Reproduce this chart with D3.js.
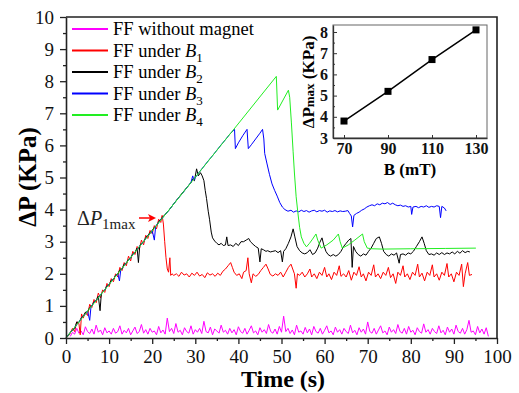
<!DOCTYPE html>
<html>
<head>
<meta charset="utf-8">
<script src="https://cdn.jsdelivr.net/npm/d3@7"></script>
<style>
  body { margin: 0; background: #fff; }
  svg { display: block; font-family: "Liberation Serif", "Times New Roman", serif; }
</style>
</head>
<body>
<svg id="chart" width="519" height="393"></svg>
<script>
// ---- data ----
var xTicks = [0, 10, 20, 30, 40, 50, 60, 70, 80, 90, 100];
var yTicks = [0, 1, 2, 3, 4, 5, 6, 7, 8, 9, 10];

var legendNames = ["FF without magnet", "FF under ", "FF under ", "FF under ", "FF under "];
var legendSubs = ["", "1", "2", "3", "4"];
var seriesColors = ["#ff00ff", "#ff0000", "#000000", "#0000ff", "#22ee22"];

// pink: sampled every 0.5 s from t = 1 s
var pinkStart = 1, pinkStep = 0.5;
var pinkValues = [
  0.05,0.18,0.12,0.3,0.15,0.22,0.1,0.35,0.2,0.14,0.28,0.12,0.4,0.18,0.25,0.1,0.32,0.16,0.22,0.12,
  0.3,0.15,0.2,0.38,0.12,0.24,0.16,0.3,0.1,0.22,0.34,0.14,0.2,0.42,0.15,0.26,0.12,0.3,0.18,0.22,
  0.1,0.36,0.16,0.25,0.12,0.62,0.2,0.3,0.14,0.45,0.18,0.24,0.1,0.32,0.2,0.15,0.38,0.12,0.26,0.18,
  0.3,0.14,0.52,0.2,0.16,0.34,0.1,0.28,0.22,0.15,0.4,0.18,0.24,0.12,0.3,0.16,0.26,0.1,0.35,0.2,
  0.15,0.3,0.12,0.24,0.38,0.16,0.22,0.1,0.32,0.18,0.26,0.14,0.42,0.2,0.15,0.28,0.12,0.36,0.18,0.68,
  0.2,0.3,0.14,0.25,0.1,0.4,0.18,0.22,0.12,0.33,0.16,0.28,0.1,0.36,0.2,0.15,0.3,0.12,0.24,0.38,
  0.16,0.22,0.1,0.34,0.18,0.26,0.12,0.3,0.2,0.14,0.4,0.16,0.24,0.1,0.32,0.18,0.28,0.12,0.5,0.2,
  0.15,0.3,0.12,0.25,0.38,0.16,0.22,0.1,0.34,0.18,0.26,0.14,0.42,0.2,0.15,0.3,0.12,0.36,0.18,0.24,
  0.1,0.32,0.2,0.15,0.44,0.18,0.26,0.12,0.3,0.2,0.14,0.38,0.16,0.24,0.1,0.34,0.18,0.28,0.12,0.4,
  0.2,0.15,0.3,0.12,0.26,0.55,0.18,0.22,0.1,0.36,0.16,0.28,0.12,0.32,0.05
];

var redData = [
  [0,0],[0.8,0.1],[1.5,0.3],[2,0.2],[2.5,0.5],[3,0.45],[3.3,0.1],[3.6,0.75],[4,0.62],[4.5,0.8],[5,0.7],
  [5.5,1.05],[6,0.95],[6.5,1.2],[7,1.1],[7.5,1.4],[8,1.25],[8.5,1.5],[9,1.42],[9.5,1.7],[10,1.6],
  [10.5,1.85],[11,1.75],[11.5,2.0],[12,1.9],[12.5,2.2],[13,2.1],[13.5,2.35],[14,2.25],[14.5,2.55],
  [15,2.4],[15.5,2.7],[16,2.6],[16.5,2.85],[17,2.75],[17.5,3.05],[18,2.9],[18.5,3.2],[19,3.1],
  [19.5,3.35],[20,3.25],[20.5,3.5],[21,3.4],[21.5,3.7],[22,3.6],[22.3,3.82],[22.6,3.55],[22.9,3.0],
  [23.2,2.5],[23.5,2.15],[23.8,2.05],[24.1,2.5],[24.3,1.95],[24.6,2.0],
  [25,1.95],[25.6,2.0],[26.2,1.92],[26.8,2.05],[27.4,1.96],[28,2.0],[28.6,1.9],[29.2,2.02],[29.8,1.95],
  [30.4,2.05],[31,1.93],[31.6,1.98],[32.2,1.88],[32.8,2.03],[33.4,1.96],[34,2.0],[34.6,1.92],[35.2,2.02],
  [35.8,1.95],[36.4,2.08],[37,2.15],[37.6,2.25],[38.2,2.35],[38.6,2.2],[39,2.05],[39.6,1.95],[40.2,2.0],
  [40.8,1.85],[41.2,2.05],[41.8,2.1],[42.2,2.5],[42.5,2.0],[43,1.72],[43.4,2.0],[44,1.92],[44.6,1.98],
  [45.2,2.1],[45.8,2.2],[46.4,2.3],[46.9,2.15],[47.4,1.98],[48,1.93],[48.6,2.0],[49.2,1.95],[49.8,2.05],
  [50.4,1.9],[51,2.05],[51.6,2.2],[52.2,2.3],[52.6,2.15],[53,2.0],[53.4,1.55],[53.7,2.0],[54.2,1.95],
  [54.8,2.05],[55.4,1.9],[56,2.0],[56.6,2.15],[57,1.9],[57.6,2.0],[58.2,1.85],[58.8,2.05],[59.4,1.95],
  [60,2.2],[60.5,1.9],[61,2.0],[61.6,1.82],[62.2,2.05],[62.8,1.95],[63.4,2.25],[63.8,1.92],[64.4,2.0],
  [65,1.9],[65.6,2.1],[66.2,1.8],[66.8,2.05],[67.4,1.95],[68,2.22],[68.5,1.9],[69,2.0],[69.6,1.78],
  [70.2,2.05],[70.8,1.95],[71.4,2.28],[71.8,1.9],[72.4,2.0],[73,1.85],[73.6,2.05],[74.2,1.95],[74.8,2.2],
  [75.3,1.88],[75.9,2.0],[76.5,1.7],[77,2.05],[77.6,1.95],[78.2,2.25],[78.6,1.9],[79.2,2.0],[79.8,1.82],
  [80.4,2.05],[81,1.95],[81.6,2.3],[82,1.9],[82.6,2.02],[83.2,1.78],[83.8,2.05],[84.4,1.95],[85,2.28],
  [85.4,1.9],[86,2.0],[86.6,1.8],[87.2,2.05],[87.8,1.95],[88.4,2.32],[88.8,1.9],[89.4,2.0],[90,1.75],
  [90.6,2.05],[91.2,1.95],[91.8,2.3],[92.2,1.6],[92.6,2.0],[93.2,2.35],[93.6,1.95],[94.2,1.98]
];

var blackData = [
  [0,0],[1,0.18],[2,0.3],[2.5,0.5],[3,0.48],[3.5,0.62],[4,0.68],[4.5,0.8],[5,0.82],[5.5,0.95],[6,1.0],
  [6.5,1.12],[7,1.17],[7.5,1.3],[7.9,0.85],[8.2,1.38],[9,1.5],[9.5,1.62],[10,1.66],[10.5,1.8],[11,1.82],
  [11.5,1.95],[12,2.0],[12.5,2.12],[13,2.15],[13.5,2.3],[14,2.33],[14.5,2.45],[15,2.5],[15.5,2.62],
  [16,2.66],[16.5,2.8],[16.8,2.35],[17.1,2.86],[17.5,2.95],[18,3.0],[18.5,3.12],[19,3.2],[19.5,3.28],
  [20,3.35],[20.5,3.45],[21,3.5],[21.5,3.62],[22,3.7],[22.5,3.78],[23,3.85],[24,4.0],[25,4.18],[26,4.35],
  [27,4.52],[28,4.68],[29,4.84],[29.4,4.95],[29.8,4.9],[30.3,5.27],[30.7,5.05],[31.2,5.15],[31.6,5.05],
  [32,4.9],[32.3,4.6],[32.6,4.35],[33,3.95],[33.3,3.7],[33.7,3.3],[34,3.12],[34.5,3.02],[35,2.95],
  [35.5,2.9],[36,2.95],[36.5,2.88],[37,2.9],[37.3,3.15],[37.6,2.88],[38.2,2.9],[38.8,2.85],[39.4,2.95],
  [40,2.88],[40.6,3.0],[41.2,3.0],[41.8,3.05],[42.4,3.1],[42.8,3.0],[43.4,2.92],[44,2.85],[44.6,2.8],
  [45,2.37],[45.3,2.78],[45.8,2.75],[46.4,2.7],[46.8,2.72],[47.4,2.68],[48,2.7],[48.6,2.72],[49.2,2.66],
  [49.8,2.72],[50.2,2.37],[50.5,2.7],[51,2.78],[51.6,2.95],[52.2,3.15],[52.7,3.4],[53.1,3.15],[53.6,2.85],
  [54.2,2.72],[54.8,2.65],[55.4,2.62],[56,2.66],[56.6,2.75],[57.2,2.6],[57.8,2.65],[58.4,2.8],[58.9,2.98],
  [59.4,3.12],[59.8,2.9],[60.3,2.7],[60.8,2.6],[61.4,2.55],[62,2.6],[62.6,2.55],[63.2,2.6],[63.8,2.7],
  [64.4,2.85],[65,2.95],[65.6,3.05],[66.1,3.1],[66.4,2.2],[66.7,2.85],[67.2,2.7],[67.8,2.6],[68.4,2.55],
  [69,2.62],[69.6,2.58],[70.2,2.7],[70.8,2.8],[71.4,2.95],[72,3.1],[72.7,3.15],[73.2,2.95],[73.7,2.7],
  [74.3,2.6],[74.9,2.55],[75.5,2.62],[76.1,2.58],[76.7,2.65],[77.3,2.33],[77.6,2.6],[78.2,2.62],
  [78.8,2.58],[79.4,2.65],[80,2.62],[80.6,2.7],[81.3,2.85],[82,3.0],[82.6,3.15],[83.1,2.95],[83.6,2.72],
  [84.2,2.6],[84.8,2.62],[85.4,2.58],[86,2.65],[86.6,2.6],[87.2,2.66],[87.8,2.6],[88.4,2.65],[89,2.62],
  [89.6,2.68],[90.2,2.62],[90.8,2.7],[91.4,2.64],[92,2.72],[92.6,2.66],[93.2,2.7],[93.7,2.68]
];

var blueData = [
  [0,0],[0.7,0.12],[1.5,0.25],[2,0.32],[2.5,0.42],[3,0.5],[3.5,0.6],[4,0.68],[4.5,0.75],[5,0.84],
  [5.5,0.55],[5.8,0.98],[6.5,1.1],[7,1.18],[7.5,1.25],[8,1.35],[8.5,1.42],[9,1.5],[9.5,1.6],[10,1.68],
  [10.5,1.75],[11,1.85],[11.5,1.92],[12,2.0],[12.4,1.78],[12.7,2.12],[13.5,2.25],[14,2.35],[14.5,2.42],
  [15,2.5],[15.5,2.6],[16,2.68],[16.5,2.75],[17,2.85],[17.5,2.92],[18,3.0],[18.5,3.1],[19,3.18],
  [19.5,3.25],[20,3.35],[20.5,3.05],[20.8,3.48],[21.5,3.6],[22,3.68],[23,3.84],[24,4.0],[25,4.18],
  [26,4.35],[27,4.5],[28,4.68],[29,4.85],[29.4,5.05],[29.7,4.92],[30,5.0],[31,5.18],[32,5.35],[33,5.52],
  [34,5.68],[35,5.85],[36,6.02],[37,6.18],[38,6.35],[39.1,6.5],[39.3,5.9],[40,6.08],[41,6.3],[42,6.5],
  [42.3,5.9],[43,6.02],[44,6.2],[45,6.38],[45.6,6.5],[45.9,6.2],[46.1,5.75],[46.6,5.45],[47.2,5.1],
  [47.8,4.8],[48.4,4.6],[49,4.42],[49.6,4.22],[50.2,4.08],[50.8,4.0],[51.5,3.95],[52.2,3.98],[52.8,3.92],
  [53.4,3.96],[54,3.93],[54.6,3.98],[55.2,3.94],[55.8,3.97],[56.4,3.92],[57,3.96],[57.6,3.98],[58.2,3.93],
  [58.8,3.97],[59.4,3.95],[60,3.98],[60.6,3.92],[61.2,3.96],[61.8,3.94],[62.4,3.97],[63,3.93],[63.6,3.96],
  [64.2,3.94],[64.8,3.95],[65.4,3.97],[65.8,3.88],[66.2,3.8],[66.5,3.46],[66.8,3.82],[67.4,3.88],[68,3.92],
  [68.6,3.98],[69.2,4.02],[69.8,4.08],[70.4,4.12],[71,4.15],[71.6,4.12],[72.2,4.18],[72.8,4.15],[73.4,4.2],
  [74,4.18],[74.6,4.22],[75.2,4.16],[75.8,4.2],[76.4,4.15],[77,4.12],[77.6,4.14],[78.2,4.1],[78.8,4.12],
  [79.4,4.08],[80,4.1],[80.2,3.85],[80.5,4.08],[81.2,4.1],[81.8,4.06],[82.4,4.1],[83,4.08],[83.6,4.12],
  [84.2,4.07],[84.8,4.1],[85.4,4.08],[86,4.12],[86.6,4.1],[86.9,3.75],[87.2,4.1],[87.8,4.05],[88.2,3.96]
];

var greenData = [
  [0,0],[48.8,8.15],[49.1,7.1],[51.6,7.72],[51.9,7.5],[52.3,6.7],[52.7,5.8],[53,5.14],[53.4,4.4],
  [53.8,3.9],[54.2,3.45],[54.6,3.15],[55.2,2.95],[55.8,2.84],[56.5,2.95],[57.2,3.08],[58,3.24],[58.4,3.05],
  [59.2,2.8],[60.5,2.9],[62,3.05],[63.2,3.24],[63.6,3.0],[64.1,2.8],[65.5,2.9],[67,3.05],[68.8,3.24],
  [69.2,3.0],[69.9,2.8],[71,2.78],[73.4,2.77],[80,2.78],[88,2.79],[95.1,2.8]
];

// inset: peak pressure vs field
var insetB = [70, 90, 110, 130];
var insetP = [3.8, 5.2, 6.7, 8.1];
var insetXTicks = [70, 90, 110, 130];
var insetYTicks = [3, 4, 5, 6, 7, 8];

// ---- drawing ----
var svg = d3.select("#chart");
svg.append("rect").attr("width", 519).attr("height", 393).attr("fill", "#fff");

var x = d3.scaleLinear().domain([0, 100]).range([66, 497]);
var y = d3.scaleLinear().domain([0, 10]).range([338, 17]);

var line = d3.line()
    .x(function (d) { return x(d[0]); })
    .y(function (d) { return y(d[1]); });

var pinkData = pinkValues.map(function (v, i) { return [pinkStart + i * pinkStep, v]; });
var allSeries = [pinkData, redData, blackData, blueData, greenData];

svg.append("g").selectAll("path")
    .data(allSeries)
    .enter()
    .append("path")
    .attr("d", line)
    .attr("fill", "none")
    .attr("stroke", function (d, i) { return seriesColors[i]; })
    .attr("stroke-width", 1);

// minor ticks
svg.append("g")
    .attr("transform", "translate(0,338)")
    .call(d3.axisBottom(x).tickValues(d3.range(5, 100, 10)).tickSize(3).tickFormat("").tickSizeOuter(0))
    .call(function (g) { g.select(".domain").remove(); });
svg.append("g")
    .attr("transform", "translate(66,0)")
    .call(d3.axisLeft(y).tickValues(d3.range(0.5, 10, 1)).tickSize(3).tickFormat("").tickSizeOuter(0))
    .call(function (g) { g.select(".domain").remove(); });

var xAxis = svg.append("g")
    .attr("transform", "translate(0,338)")
    .call(d3.axisBottom(x).tickValues(xTicks).tickSize(6).tickPadding(6).tickSizeOuter(0));
var yAxis = svg.append("g")
    .attr("transform", "translate(66,0)")
    .call(d3.axisLeft(y).tickValues(yTicks).tickSize(6).tickPadding(6).tickSizeOuter(0));

svg.selectAll(".tick line").attr("stroke", "#222").attr("stroke-width", 1.3);
[xAxis, yAxis].forEach(function (g) {
    g.select(".domain").attr("stroke", "#222").attr("stroke-width", 1.6);
    g.selectAll("text").attr("font-family", "Liberation Serif").attr("font-size", 19).attr("fill", "#111");
});

// top and right frame
svg.append("path")
    .attr("d", "M66,17H497V338")
    .attr("fill", "none")
    .attr("stroke", "#222")
    .attr("stroke-width", 1.6);

// axis titles
svg.append("text")
    .attr("x", 283).attr("y", 387)
    .attr("text-anchor", "middle")
    .attr("font-weight", "bold").attr("font-size", 24)
    .text("Time (s)");
svg.append("text")
    .attr("transform", "translate(36,177) rotate(-90)")
    .attr("text-anchor", "middle")
    .attr("font-weight", "bold").attr("font-size", 25)
    .text("ΔP (KPa)");

// legend
var legend = svg.append("g").selectAll("g")
    .data(legendNames)
    .enter()
    .append("g")
    .attr("transform", function (d, i) { return "translate(72," + (29 + i * 21.5) + ")"; });
legend.append("line")
    .attr("x1", 0).attr("x2", 36)
    .attr("stroke", function (d, i) { return seriesColors[i]; })
    .attr("stroke-width", 2);
var lt = legend.append("text")
    .attr("x", 41).attr("dy", "0.35em")
    .attr("font-size", 18.5);
lt.append("tspan").text(function (d) { return d; });
lt.filter(function (d, i) { return legendSubs[i] !== ""; })
    .append("tspan").attr("font-style", "italic").text("B");
lt.filter(function (d, i) { return legendSubs[i] !== ""; })
    .append("tspan").attr("font-size", 13).attr("dy", 5)
    .text(function (d, i) { return legendSubs[i + 1]; });

// annotation
var ann = svg.append("text").attr("x", 77).attr("y", 225).attr("font-size", 20).attr("fill", "#222");
ann.append("tspan").text("Δ");
ann.append("tspan").attr("font-style", "italic").text("P");
ann.append("tspan").attr("font-size", 15).attr("dy", 4).text("1max");
svg.append("line")
    .attr("x1", 139).attr("x2", 150).attr("y1", 218).attr("y2", 218)
    .attr("stroke", "#ff0000").attr("stroke-width", 1.5);
svg.append("path")
    .attr("d", "M156,218L148,214L150,218L148,222Z")
    .attr("fill", "#ff0000");

// ---- inset ----
var ix = d3.scaleLinear().domain([65, 135]).range([333, 487]);
var iy = d3.scaleLinear().domain([3, 8.33]).range([138, 25]);

svg.append("rect")
    .attr("x", 333).attr("y", 25).attr("width", 154).attr("height", 113)
    .attr("fill", "#fff").attr("stroke", "#666").attr("stroke-width", 1);

var ixAxis = svg.append("g")
    .attr("transform", "translate(0,138)")
    .call(d3.axisBottom(ix).tickValues(insetXTicks).tickFormat(d3.format("d"))
        .tickSize(-3).tickPadding(5).tickSizeOuter(0));
var iyAxis = svg.append("g")
    .attr("transform", "translate(333,0)")
    .call(d3.axisLeft(iy).tickValues(insetYTicks).tickFormat(d3.format("d"))
        .tickSize(-4).tickPadding(5).tickSizeOuter(0));
svg.append("g")
    .attr("transform", "translate(333,0)")
    .call(d3.axisLeft(iy).tickValues(d3.range(3.5, 8.4, 1)).tickSize(-2).tickFormat("").tickSizeOuter(0))
    .call(function (g) { g.select(".domain").remove(); g.selectAll("line").attr("stroke", "#333"); });
[ixAxis, iyAxis].forEach(function (g) {
    g.select(".domain").attr("stroke", "#333").attr("stroke-width", 1.3);
    g.selectAll(".tick line").attr("stroke", "#333");
    g.selectAll("text").attr("font-family", "Liberation Serif").attr("font-size", 16)
        .attr("font-weight", "bold").attr("fill", "#111");
});

var insetPts = insetB.map(function (b, i) { return [b, insetP[i]]; });
svg.append("path")
    .datum(insetPts)
    .attr("d", d3.line().x(function (d) { return ix(d[0]); }).y(function (d) { return iy(d[1]); }))
    .attr("fill", "none").attr("stroke", "#000").attr("stroke-width", 1.5);
svg.append("g").selectAll("rect")
    .data(insetPts)
    .enter()
    .append("rect")
    .attr("x", function (d) { return ix(d[0]) - 3.5; })
    .attr("y", function (d) { return iy(d[1]) - 3.5; })
    .attr("width", 7).attr("height", 7)
    .attr("fill", "#000");

svg.append("text")
    .attr("x", 410).attr("y", 175)
    .attr("text-anchor", "middle")
    .attr("font-weight", "bold").attr("font-size", 17)
    .text("B (mT)");
var iyt = svg.append("text")
    .attr("transform", "translate(314,82) rotate(-90)")
    .attr("text-anchor", "middle")
    .attr("font-weight", "bold").attr("font-size", 17);
iyt.append("tspan").text("ΔP");
iyt.append("tspan").attr("font-size", 13).text("max");
iyt.append("tspan").text(" (KPa)");
</script>
</body>
</html>
